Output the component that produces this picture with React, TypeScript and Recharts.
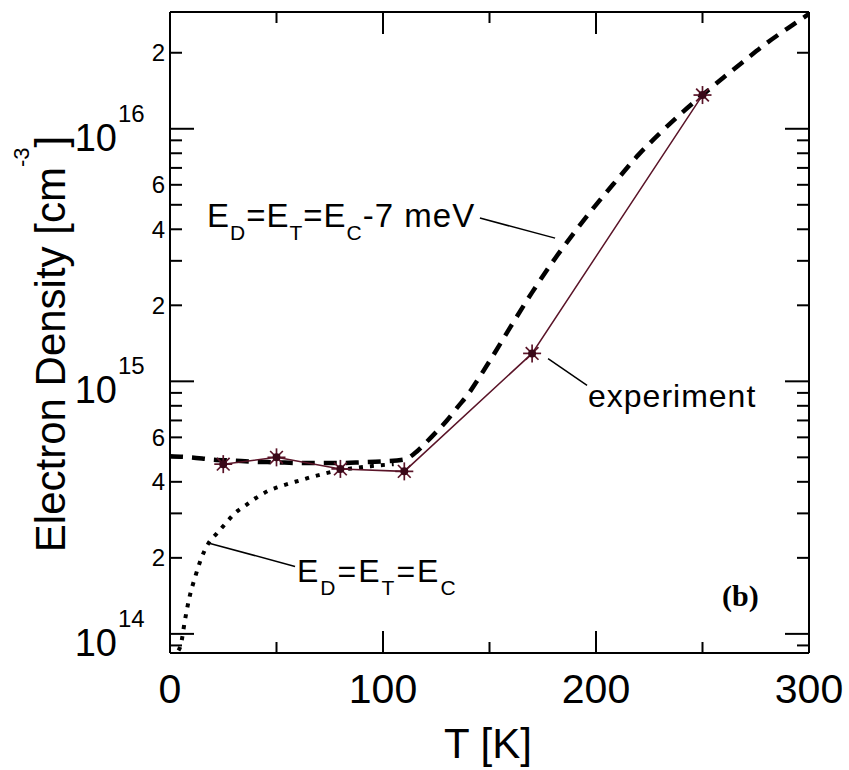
import { Line, LineChart, ReferenceLine, XAxis, YAxis } from "recharts";

// experiment (stars)
const expT = [25, 50, 80, 110, 170, 250];
const expN = [4.7e14, 5.0e14, 4.5e14, 4.4e14, 1.29e15, 1.36e16];

// E_D = E_T = E_C - 7 meV (dashed)
const shallowT = [0, 10, 20, 30, 40, 50, 60, 70, 80, 90, 100, 110, 115, 120, 125, 130, 135, 140, 145, 150, 160, 170, 180, 190, 200, 210, 220, 230, 240, 250, 260, 270, 280, 290, 300];
const shallowN = [
  5.05e14, 5.0e14, 4.9e14, 4.85e14, 4.8e14, 4.78e14, 4.75e14, 4.75e14, 4.75e14, 4.78e14, 4.82e14, 4.9e14, 5.2e14, 5.7e14, 6.3e14, 7.0e14,
  7.9e14, 8.9e14, 1.03e15, 1.2e15, 1.65e15, 2.25e15, 3.0e15, 3.9e15, 5.0e15, 6.3e15, 7.9e15, 9.6e15, 1.15e16, 1.36e16, 1.6e16, 1.87e16,
  2.18e16, 2.5e16, 2.85e16,
];

// E_D = E_T = E_C (dotted)
const edgeT = [4, 5, 7, 9, 12, 14, 18, 22, 26, 30, 36, 41, 46, 51, 56, 61, 66, 72, 78, 85, 95, 105];
const edgeN = [
  8.6e13, 9.0e13, 1.13e14, 1.38e14, 1.7e14, 1.92e14, 2.28e14, 2.5e14, 2.73e14, 2.98e14, 3.25e14, 3.48e14, 3.68e14, 3.82e14, 3.94e14,
  4.05e14, 4.17e14, 4.3e14, 4.42e14, 4.52e14, 4.62e14, 4.7e14,
];

const xTicks = [0, 50, 100, 150, 200, 250, 300];
const yTicks = [
  9e13, 1e14, 2e14, 3e14, 4e14, 5e14, 6e14, 7e14, 8e14, 9e14, 1e15, 2e15, 3e15, 4e15, 5e15, 6e15, 7e15, 8e15, 9e15, 1e16, 2e16,
];
const yLabelled = [2, 4, 6];

const expData = expT.map((T, i) => ({ T, n: expN[i] }));
const shallowData = shallowT.map((T, i) => ({ T, n: shallowN[i] }));
const edgeData = edgeT.map((T, i) => ({ T, n: edgeN[i] }));

const FONT = "'Liberation Sans', Arial, sans-serif";
const MAROON = "#5a1428";

const yTick = (side: "left" | "right") => (props: any) => {
  const { x, y, payload } = props;
  const v = payload.value as number;
  const exp = Math.floor(Math.log10(v) + 1e-9);
  const mant = Math.round(v / Math.pow(10, exp));
  const major = mant === 1;
  const dir = side === "left" ? 1 : -1;
  return (
    <g>
      <line x1={x} y1={y} x2={x + dir * (major ? 24 : 12)} y2={y} stroke="#000" strokeWidth={2} />
      {side === "left" && major && (
        <>
          <text x={x - 53} y={y + 22} textAnchor="end" fontSize={38} fontFamily={FONT} fill="#000">10</text>
          <text x={x - 52} y={y - 7} fontSize={24} fontFamily={FONT} fill="#000">{exp}</text>
        </>
      )}
      {side === "left" && yLabelled.includes(mant) && (
        <text x={x - 5} y={y + 8.5} textAnchor="end" fontSize={24} fontFamily={FONT} fill="#000">{mant}</text>
      )}
    </g>
  );
};

const xTick = (side: "top" | "bottom") => (props: any) => {
  const { x, y, payload } = props;
  const v = payload.value as number;
  const major = v % 100 === 0;
  const dir = side === "bottom" ? -1 : 1;
  return (
    <g>
      <line x1={x} y1={y} x2={x} y2={y + dir * (major ? 22 : 11)} stroke="#000" strokeWidth={2} />
      {side === "bottom" && major && (
        <text x={x} y={y + 50} textAnchor="middle" fontSize={41} fontFamily={FONT} fill="#000">{v}</text>
      )}
    </g>
  );
};

const Star = (props: any) => {
  const { cx, cy } = props;
  if (cx == null || cy == null) return <g />;
  const r = 9;
  const arms = [0, 45, 90, 135].map((a) => {
    const rad = (a * Math.PI) / 180;
    return (
      <line key={a} x1={cx - r * Math.cos(rad)} y1={cy - r * Math.sin(rad)} x2={cx + r * Math.cos(rad)} y2={cy + r * Math.sin(rad)}
        stroke={MAROON} strokeWidth={1.7} />
    );
  });
  return (
    <g>
      {arms}
      <circle cx={cx} cy={cy} r={4} fill="#3a0818" />
    </g>
  );
};

export default function App() {
  return (
    <div style={{ position: "absolute", left: 0, top: 0, background: "#fff" }}>
      <LineChart width={849} height={770} margin={{ top: 10, right: 30, bottom: 87, left: 70 }}>
        <XAxis dataKey="T" type="number" domain={[0, 300]} ticks={xTicks} interval={0} height={30}
          axisLine={{ stroke: "#000", strokeWidth: 2 }} tickLine={false} tickSize={0} tickMargin={0} tick={xTick("bottom")} allowDataOverflow />
        <XAxis xAxisId="top" orientation="top" dataKey="T" type="number" domain={[0, 300]} ticks={xTicks} interval={0} height={2}
          axisLine={{ stroke: "#000", strokeWidth: 2 }} tickLine={false} tickSize={0} tickMargin={0} tick={xTick("top")} allowDataOverflow />
        <YAxis scale="log" type="number" domain={[8.4e13, 2.9e16]} ticks={yTicks} interval={0} width={100}
          axisLine={{ stroke: "#000", strokeWidth: 2 }} tickLine={false} tickSize={0} tickMargin={0} tick={yTick("left")} allowDataOverflow />
        <YAxis yAxisId="r" orientation="right" scale="log" type="number" domain={[8.4e13, 2.9e16]} ticks={yTicks} interval={0} width={10}
          axisLine={{ stroke: "#000", strokeWidth: 2 }} tickLine={false} tickSize={0} tickMargin={0} tick={yTick("right")} allowDataOverflow />

        <Line data={edgeData} dataKey="n" type="monotone" stroke="#000" strokeWidth={4} strokeDasharray="4 7"
          dot={false} activeDot={false} isAnimationActive={false} />
        <Line data={shallowData} dataKey="n" type="monotone" stroke="#000" strokeWidth={4.5} strokeDasharray="13 9"
          dot={false} activeDot={false} isAnimationActive={false} />
        <Line data={expData} dataKey="n" type="linear" stroke={MAROON} strokeWidth={1.5}
          dot={(p: any) => <Star key={`s${p.index}`} {...p} />} activeDot={false} isAnimationActive={false} />

        <ReferenceLine segment={[{ x: 145.5, y: 4.43e15 }, { x: 180.8, y: 3.69e15 }]} stroke="#000" strokeWidth={1.5} ifOverflow="visible" />
        <ReferenceLine segment={[{ x: 177.5, y: 1.23e15 }, { x: 195.8, y: 9.64e14 }]} stroke="#000" strokeWidth={1.5} ifOverflow="visible" />
        <ReferenceLine segment={[{ x: 18.8, y: 2.28e14 }, { x: 58.7, y: 1.85e14 }]} stroke="#000" strokeWidth={1.5} ifOverflow="visible" />

        <text x={207} y={227} fontSize={33} fontFamily={FONT} letterSpacing={1} fill="#000">
          E<tspan fontSize={21} dy={13}>D</tspan>
          <tspan dy={-13}>=E</tspan>
          <tspan fontSize={21} dy={13}>T</tspan>
          <tspan dy={-13}>=E</tspan>
          <tspan fontSize={21} dy={13}>C</tspan>
          <tspan dy={-13}>-7 meV</tspan>
        </text>
        <text x={297} y={582} fontSize={32} fontFamily={FONT} letterSpacing={2} fill="#000">
          E<tspan fontSize={21} dy={13}>D</tspan>
          <tspan dy={-13}>=E</tspan>
          <tspan fontSize={21} dy={13}>T</tspan>
          <tspan dy={-13}>=E</tspan>
          <tspan fontSize={21} dy={13}>C</tspan>
        </text>
        <text x={588} y={407} fontSize={32} fontFamily={FONT} letterSpacing={1} fill="#000">experiment</text>
        <text x={722} y={606} fontSize={30} fontFamily="'Liberation Serif', 'Times New Roman', serif" fontWeight="bold" fill="#000">(b)</text>

        <text x={488} y={758} textAnchor="middle" fontSize={42} fontFamily={FONT} fill="#000">T [K]</text>
        <text transform="translate(65,344) rotate(-90)" textAnchor="middle" fontSize={42} fontFamily={FONT} fill="#000">
          Electron Density [cm<tspan dy={-36} fontSize={22}>-3</tspan>
          <tspan dy={36}>]</tspan>
        </text>
      </LineChart>
    </div>
  );
}
